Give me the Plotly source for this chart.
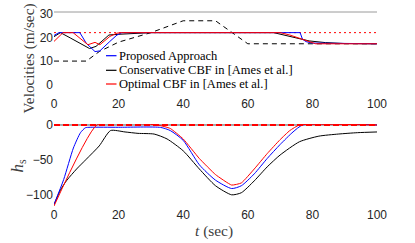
import plotly.graph_objects as go
from plotly.subplots import make_subplots

# ---------------- data ----------------
# Top panel: velocities (m/sec)
t_prop_v = [0, 1.5, 8, 10, 12.7, 14.2, 17.3, 19.5, 21, 76.2, 76.9, 78, 80, 100]
v_prop   = [20.8, 22, 22, 17.5, 14, 14.3, 18.3, 21, 22, 22, 19.3, 18.2, 17.6, 17.3]

t_cons_v = [0, 2, 5, 8, 11, 13, 15, 17, 20, 25, 30, 68, 72, 76, 79, 84, 90, 100]
v_cons   = [20.3, 22, 19.8, 17.6, 15.3, 16.2, 18.5, 21, 21.3, 21.6, 22, 22, 20.8, 19.6, 18.5, 17.8, 17.4, 17.3]

t_opt_v = [0, 2.8, 5.9, 10.5, 12.7, 14.2, 17.3, 19.5, 21, 70, 73, 76, 78, 81, 100]
v_opt   = [18.3, 22, 22, 16.9, 17.9, 16.9, 20.4, 21.8, 22, 22, 21, 19.6, 18.5, 17.3, 17.3]

t_lead = [0, 10, 14, 20, 30, 40, 50, 60, 100]
v_lead = [10, 10, 14, 18, 22, 27, 27, 17.3, 17.3]

t_ref = [0, 100]
v_ref = [22, 22]

# Bottom panel: h_s
t_prop_h = [0, 3, 6, 8.2, 9.7, 11.2, 20, 33, 36, 40, 45, 50, 55, 58, 62, 66, 70, 74, 77, 100]
h_prop   = [-114, -78, -33, -11, -4, -3.3, -3.3, -3.5, -8, -22, -57, -79, -91, -87, -70, -48, -28, -10, 0, 0]

t_cons_h = [0, 2, 4, 7, 10, 14, 17.5, 22, 26, 31, 35, 40, 45, 50, 55, 58, 62, 66, 70, 76, 82, 88, 94, 100]
h_cons   = [-114, -93, -79, -63, -49, -30, -8, -10, -12, -13, -20, -37, -63, -87, -100, -97, -80, -60, -43, -24, -16, -13, -11, -10]

t_opt_h = [0, 13.3, 32, 36, 40, 45, 50, 55, 58, 62, 66, 70, 73, 76, 100]
h_opt   = [-116, 0, 0, -5, -20, -48, -71, -86, -83, -63, -41, -21, -8, 0, 0]

t_zero = [0, 100]
h_zero = [0, 0]

x_ticks = [0, 20, 40, 60, 80, 100]
v_ticks = [0, 10, 20, 30]
h_ticks = [-100, -50, 0]

legend_names = ["Proposed Approach", "Conservative CBF in [Ames et al.]", "Optimal CBF in [Ames et al.]"]
legend_colors = ["#0000ff", "#000000", "#ff0000"]

# ---------------- figure ----------------
W, H = 415, 243
ml, mr, mt, mb = 54, 38, 12, 37
pw = W - ml - mr
ph = H - mt - mb

def py(pix):
    return (H - mb - pix) / ph

def px(pix):
    return (pix - ml) / pw

fig = make_subplots(rows=2, cols=1)

BLUE, BLACK, RED = legend_colors

# top
fig.add_trace(go.Scatter(x=t_lead, y=v_lead, mode="lines",
                         line=dict(color=BLACK, width=1, dash="5px,4px")), row=1, col=1)
fig.add_trace(go.Scatter(x=t_ref, y=v_ref, mode="lines",
                         line=dict(color=RED, width=1, dash="2px,3px")), row=1, col=1)
fig.add_trace(go.Scatter(x=t_cons_v, y=v_cons, mode="lines",
                         line=dict(color=BLACK, width=1)), row=1, col=1)
fig.add_trace(go.Scatter(x=t_prop_v, y=v_prop, mode="lines",
                         line=dict(color=BLUE, width=1)), row=1, col=1)
fig.add_trace(go.Scatter(x=t_opt_v, y=v_opt, mode="lines",
                         line=dict(color=RED, width=1)), row=1, col=1)

# bottom
fig.add_trace(go.Scatter(x=t_zero, y=h_zero, mode="lines",
                         line=dict(color="#555555", width=1)), row=2, col=1)
fig.add_trace(go.Scatter(x=t_cons_h, y=h_cons, mode="lines", line_shape="spline",
                         line=dict(color=BLACK, width=1, smoothing=0.6)), row=2, col=1)
fig.add_trace(go.Scatter(x=t_prop_h, y=h_prop, mode="lines", line_shape="spline",
                         line=dict(color=BLUE, width=1, smoothing=0.6)), row=2, col=1)
fig.add_trace(go.Scatter(x=t_opt_h, y=h_opt, mode="lines", line_shape="spline",
                         line=dict(color=RED, width=1, smoothing=0.4)), row=2, col=1)
fig.add_trace(go.Scatter(x=t_zero, y=h_zero, mode="lines",
                         line=dict(color=RED, width=2, dash="6px,3px")), row=2, col=1)

tickfont = dict(family="Liberation Sans, Arial, sans-serif", size=12, color="#262626")
axis_common = dict(showgrid=False, zeroline=False, showline=False, ticks="",
                   tickfont=tickfont, automargin=False)

fig.update_xaxes(range=[0, 100], tickvals=x_ticks, domain=[0, 1], **axis_common)
fig.update_yaxes(**axis_common)
fig.update_yaxes(range=[-4.3, 30.7], tickvals=v_ticks, domain=[py(95), 1], row=1, col=1)
fig.update_yaxes(range=[-116, 1.4], tickvals=h_ticks, domain=[0, py(124)], row=2, col=1)

serif = "Liberation Serif, Times New Roman, serif"
shapes = [
    dict(type="line", xref="paper", yref="paper", x0=0, x1=1, y0=1, y1=1,
         line=dict(color="#9a9a9a", width=1)),
]
annotations = [
    dict(text="Velocities (m/sec)", xref="paper", yref="paper", x=px(28.5), y=py(59),
         xanchor="center", yanchor="middle",
         textangle=-90, showarrow=False, font=dict(family=serif, size=15.3, color="#404040")),
    dict(text="<i>h</i><sub>s</sub>", xref="paper", yref="paper", x=px(18.5), y=py(166),
         xanchor="center", yanchor="middle",
         textangle=-90, showarrow=False, font=dict(family=serif, size=17, color="#404040")),
    dict(text="<i>t</i> (sec)", xref="paper", yref="paper", x=px(214), y=py(231),
         xanchor="center", yanchor="middle",
         showarrow=False, font=dict(family=serif, size=15.4, color="#404040")),
]
rows_y = [55.7, 70.3, 84]
for name, col, yy in zip(legend_names, legend_colors, rows_y):
    shapes.append(dict(type="line", xref="paper", yref="paper", x0=px(106), x1=px(116.5),
                       y0=py(yy), y1=py(yy), line=dict(color=col, width=1.2)))
    annotations.append(dict(text=name, xref="paper", yref="paper", x=px(117), y=py(yy),
                            xanchor="left", yanchor="middle", showarrow=False,
                            font=dict(family=serif, size=12.5, color="#000000")))

fig.update_layout(
    width=W, height=H,
    margin=dict(l=ml, r=mr, t=mt, b=mb, pad=0),
    paper_bgcolor="white", plot_bgcolor="white",
    showlegend=False,
    shapes=shapes, annotations=annotations,
)

fig.write_html("out.html", config={"displayModeBar": False},
               post_script="document.body.style.margin='0';")
